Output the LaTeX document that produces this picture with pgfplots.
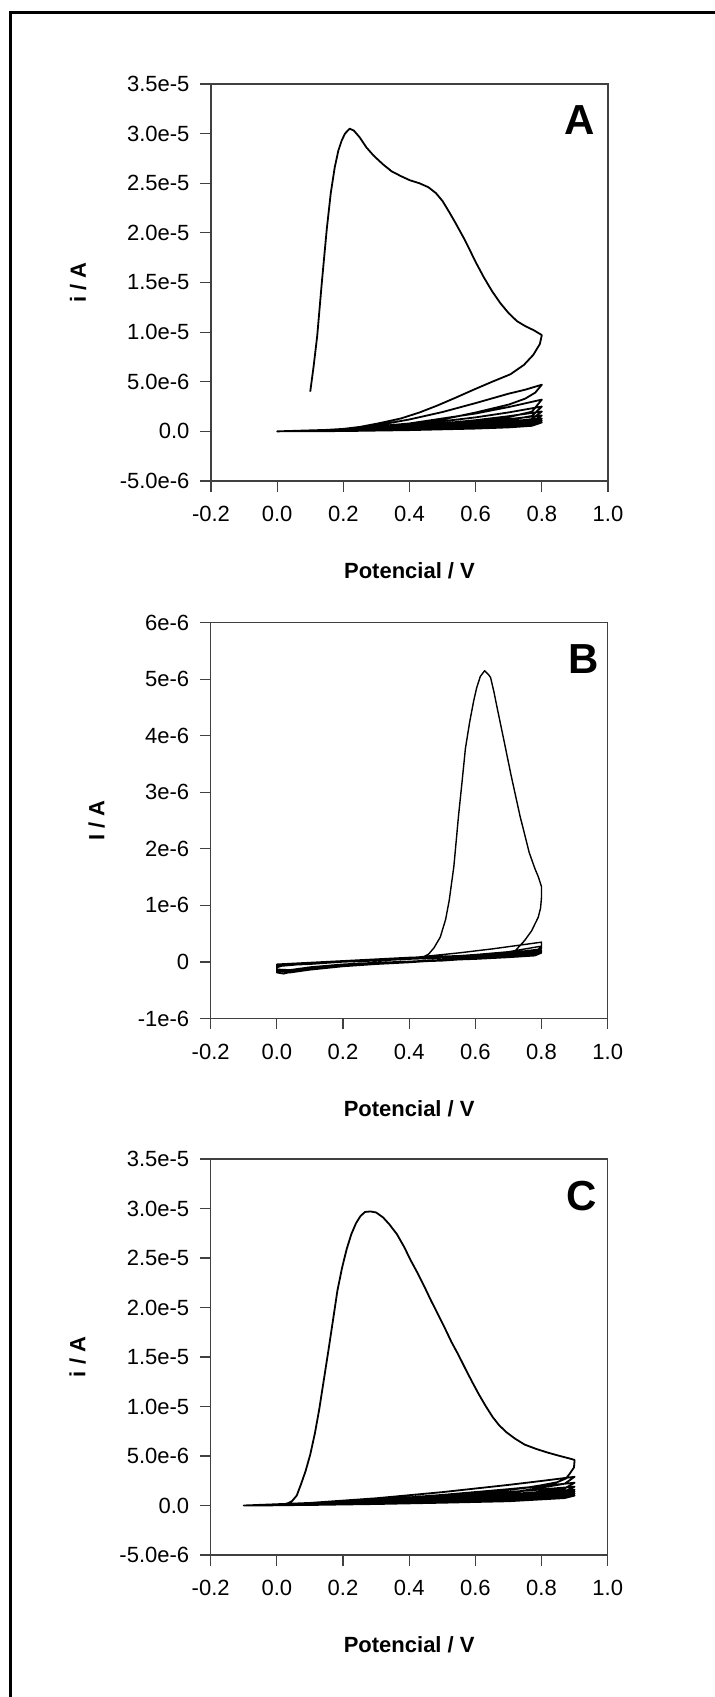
\documentclass[border=0pt]{standalone}
\usepackage{pgfplots}
\pgfplotsset{compat=1.18}
\usepackage{fontspec}
\setmainfont{Liberation Sans}
\newcommand{\tickfont}{\fontsize{22bp}{26bp}\selectfont}
\newcommand{\labfont}{\fontsize{22bp}{26bp}\selectfont\bfseries}
\newcommand{\panfont}{\fontsize{42bp}{42bp}\selectfont\bfseries}
\pgfplotsset{
  cvaxis/.style={
    scale only axis, width=397bp,
    xmin=-0.2, xmax=1.0,
    axis line style={line width=1.2bp, black!75},
    tick align=outside, tick pos=left, major tick length=11bp,
    tick style={line width=1.2bp, black!75},
    xtick={-0.2,0,0.2,0.4,0.6,0.8,1.0},
    xticklabels={-0.2,0.0,0.2,0.4,0.6,0.8,1.0},
    scaled ticks=false,
    tick label style={font=\tickfont},
    yticklabel style={xshift=-7bp},
    xticklabel style={yshift=-11bp},
    xlabel={Potencial / V},
    xlabel style={font=\labfont, at={([yshift=-90bp]axis description cs:0.5,0)}, anchor=center},
    ylabel style={font=\labfont, at={([xshift=-133bp]axis description cs:0,0.5)}, anchor=center},
    clip=false,
  },
  cvline/.style={black, line width=1.8bp, line join=round, mark=none},
}
\begin{document}
\begin{tikzpicture}
% outer frame (left and top edges)
\draw[line width=3bp, black] (10bp,0bp) -- (10bp,1684bp) -- (720bp,1684bp);

% ---------------- Panel A ----------------
\begin{axis}[cvaxis, at={(211bp,1216bp)}, anchor=south west, height=397bp,
  ymin=-5e-6, ymax=3.5e-5,
  ytick={-5e-6,0,5e-6,1e-5,1.5e-5,2e-5,2.5e-5,3e-5,3.5e-5},
  yticklabels={-5.0e-6,0.0,5.0e-6,1.0e-5,1.5e-5,2.0e-5,2.5e-5,3.0e-5,3.5e-5},
  ylabel={i / A}]
\addplot[cvline] coordinates {
(0.100,4.0e-6) (0.110,6.5e-6) (0.121,9.6e-6) (0.135,15.0e-6) (0.150,20.4e-6) (0.162,24.0e-6) (0.174,26.6e-6) (0.185,28.3e-6) (0.195,29.3e-6) (0.205,30.0e-6) (0.219,30.5e-6) (0.232,30.3e-6) (0.250,29.6e-6) (0.270,28.6e-6) (0.291,27.8e-6) (0.320,26.9e-6) (0.346,26.2e-6) (0.375,25.7e-6) (0.401,25.3e-6) (0.430,25.0e-6) (0.457,24.6e-6) (0.480,24.0e-6) (0.500,23.2e-6) (0.520,22.1e-6) (0.539,21.0e-6) (0.567,19.3e-6) (0.601,17.0e-6) (0.625,15.5e-6) (0.650,14.1e-6) (0.675,12.9e-6) (0.700,11.9e-6) (0.725,11.1e-6) (0.750,10.6e-6) (0.775,10.2e-6) (0.800,9.7e-6)
(0.794,8.8e-6) (0.774,7.7e-6) (0.746,6.7e-6) (0.705,5.75e-6) (0.650,5.0e-6) (0.594,4.2e-6) (0.540,3.4e-6) (0.484,2.6e-6) (0.430,1.9e-6) (0.374,1.3e-6) (0.305,0.8e-6) (0.250,0.45e-6) (0.200,0.25e-6) (0.126,0.1e-6) (0.060,0.03e-6) (0.000,0.0)
(0.1,0.05e-6) (0.2,0.2e-6) (0.3,0.6e-6) (0.4,1.2e-6) (0.5,1.95e-6) (0.6,2.85e-6) (0.7,3.8e-6) (0.75,4.2e-6) (0.8,4.7e-6)
(0.78,3.9e-6) (0.75,3.3e-6) (0.7,2.7e-6) (0.6,1.9e-6) (0.5,1.2e-6) (0.4,0.7e-6) (0.3,0.35e-6) (0.2,0.15e-6) (0.1,0.05e-6) (0,0)
(0.2,0.2e-6) (0.4,0.8e-6) (0.6,1.8e-6) (0.7,2.45e-6) (0.8,3.2e-6) (0.77,1.98e-6) (0.7,1.44e-6) (0.6,0.99e-6) (0.4,0.45e-6) (0.2,0.11e-6) (0,0)
(0.2,0.156e-6) (0.4,0.625e-6) (0.6,1.41e-6) (0.7,1.91e-6) (0.8,2.5e-6) (0.77,1.55e-6) (0.7,1.13e-6) (0.6,0.78e-6) (0.4,0.35e-6) (0.2,0.09e-6) (0,0)
(0.2,0.125e-6) (0.4,0.5e-6) (0.6,1.125e-6) (0.7,1.53e-6) (0.8,2.0e-6) (0.77,1.24e-6) (0.7,0.9e-6) (0.6,0.62e-6) (0.4,0.28e-6) (0.2,0.07e-6) (0,0)
(0.2,0.1e-6) (0.4,0.4e-6) (0.6,0.9e-6) (0.7,1.23e-6) (0.8,1.6e-6) (0.77,0.99e-6) (0.7,0.72e-6) (0.6,0.5e-6) (0.4,0.22e-6) (0.2,0.056e-6) (0,0)
(0.2,0.081e-6) (0.4,0.325e-6) (0.6,0.73e-6) (0.7,1.0e-6) (0.8,1.3e-6) (0.77,0.81e-6) (0.7,0.585e-6) (0.6,0.40e-6) (0.4,0.18e-6) (0.2,0.046e-6) (0,0)
(0.2,0.069e-6) (0.4,0.275e-6) (0.6,0.62e-6) (0.7,0.84e-6) (0.8,1.1e-6) (0.77,0.68e-6) (0.7,0.5e-6) (0.6,0.34e-6) (0.4,0.154e-6) (0.2,0.039e-6) (0,0)
(0.2,0.056e-6) (0.4,0.225e-6) (0.6,0.51e-6) (0.7,0.69e-6) (0.8,0.9e-6) (0.77,0.56e-6) (0.7,0.4e-6) (0.6,0.28e-6) (0.4,0.126e-6) (0.2,0.03e-6) (0,0)
};
\node[font=\panfont] at ([xshift=-28bp,yshift=-36bp]rel axis cs:1,1) {A};
\end{axis}

% ---------------- Panel B ----------------
\begin{axis}[cvaxis, at={(210.7bp,678.5bp)}, anchor=south west, height=395.8bp,
  ymin=-1e-6, ymax=6e-6,
  ytick={-1e-6,0,1e-6,2e-6,3e-6,4e-6,5e-6,6e-6},
  yticklabels={-1e-6,0,1e-6,2e-6,3e-6,4e-6,5e-6,6e-6},
  ylabel={I / A},
  ylabel style={at={([xshift=-114bp]axis description cs:0,0.5)}}]
\addplot[cvline, line width=1.4bp] coordinates {
(0.0,-0.06e-6) (0.05,-0.05e-6) (0.1,-0.03e-6) (0.2,0.0) (0.3,0.03e-6) (0.4,0.06e-6) (0.44,0.08e-6) (0.459,0.14e-6) (0.475,0.25e-6) (0.494,0.44e-6) (0.510,0.75e-6) (0.521,1.09e-6) (0.535,1.69e-6) (0.549,2.58e-6) (0.560,3.2e-6) (0.570,3.78e-6) (0.583,4.25e-6) (0.595,4.62e-6) (0.604,4.85e-6) (0.615,5.05e-6) (0.628,5.15e-6) (0.640,5.08e-6) (0.646,5.03e-6) (0.656,4.78e-6) (0.666,4.49e-6) (0.687,3.90e-6) (0.708,3.30e-6) (0.735,2.58e-6) (0.763,1.93e-6) (0.780,1.65e-6) (0.790,1.51e-6) (0.800,1.33e-6)
(0.800,1.15e-6) (0.797,0.95e-6) (0.790,0.79e-6) (0.770,0.55e-6) (0.749,0.38e-6) (0.721,0.20e-6) (0.70,0.13e-6) (0.65,0.10e-6) (0.6,0.07e-6) (0.5,0.04e-6) (0.4,0.01e-6) (0.3,-0.02e-6) (0.2,-0.06e-6) (0.1,-0.12e-6) (0.05,-0.17e-6) (0.02,-0.21e-6) (0.0,-0.19e-6)
(0.0,-0.10e-6) (0.02,-0.06e-6) (0.1,-0.04e-6) (0.2,0.0) (0.3,0.03e-6) (0.4,0.07e-6) (0.45,0.10e-6) (0.55,0.16e-6) (0.65,0.23e-6) (0.75,0.31e-6) (0.8,0.35e-6)
(0.8,0.25e-6) (0.78,0.18e-6) (0.7,0.11e-6) (0.6,0.07e-6) (0.5,0.04e-6) (0.4,0.01e-6) (0.3,-0.02e-6) (0.2,-0.06e-6) (0.1,-0.12e-6) (0.04,-0.18e-6) (0.0,-0.17e-6)
(0.0,-0.08e-6) (0.1,-0.03e-6) (0.2,0.0) (0.3,0.03e-6) (0.4,0.06e-6) (0.5,0.09e-6) (0.6,0.13e-6) (0.7,0.18e-6) (0.8,0.28e-6)
(0.78,0.16e-6) (0.7,0.10e-6) (0.6,0.07e-6) (0.5,0.04e-6) (0.4,0.01e-6) (0.3,-0.02e-6) (0.2,-0.06e-6) (0.1,-0.11e-6) (0.04,-0.17e-6) (0.0,-0.16e-6)
(0.0,-0.07e-6) (0.1,-0.03e-6) (0.2,0.0) (0.3,0.03e-6) (0.4,0.06e-6) (0.5,0.08e-6) (0.6,0.11e-6) (0.7,0.16e-6) (0.8,0.23e-6)
(0.78,0.14e-6) (0.7,0.09e-6) (0.6,0.06e-6) (0.5,0.04e-6) (0.4,0.01e-6) (0.3,-0.02e-6) (0.2,-0.05e-6) (0.1,-0.11e-6) (0.04,-0.16e-6) (0.0,-0.15e-6)
(0.0,-0.07e-6) (0.1,-0.03e-6) (0.2,0.0) (0.3,0.03e-6) (0.4,0.05e-6) (0.5,0.07e-6) (0.6,0.10e-6) (0.7,0.14e-6) (0.8,0.19e-6)
(0.78,0.12e-6) (0.7,0.08e-6) (0.6,0.05e-6) (0.5,0.03e-6) (0.4,0.01e-6) (0.3,-0.02e-6) (0.2,-0.05e-6) (0.1,-0.10e-6) (0.04,-0.15e-6) (0.0,-0.14e-6)
(0.0,-0.06e-6) (0.1,-0.03e-6) (0.2,0.0) (0.3,0.02e-6) (0.4,0.05e-6) (0.5,0.07e-6) (0.6,0.09e-6) (0.7,0.12e-6) (0.8,0.16e-6)
(0.78,0.11e-6) (0.7,0.08e-6) (0.6,0.05e-6) (0.5,0.03e-6) (0.4,0.01e-6) (0.3,-0.01e-6) (0.2,-0.04e-6) (0.1,-0.09e-6) (0.04,-0.14e-6) (0.0,-0.13e-6)
(0.0,-0.05e-6) (0.1,-0.02e-6) (0.2,0.01e-6) (0.3,0.04e-6) (0.4,0.07e-6) (0.5,0.09e-6) (0.6,0.11e-6) (0.7,0.14e-6) (0.8,0.18e-6)
(0.78,0.12e-6) (0.7,0.09e-6) (0.6,0.06e-6) (0.5,0.02e-6) (0.4,0.0) (0.3,-0.03e-6) (0.2,-0.07e-6) (0.1,-0.13e-6) (0.04,-0.17e-6) (0.0,-0.15e-6)
(0.0,-0.04e-6) (0.1,-0.01e-6) (0.2,0.02e-6) (0.3,0.05e-6) (0.4,0.08e-6) (0.5,0.10e-6) (0.6,0.12e-6) (0.7,0.15e-6) (0.8,0.20e-6)
(0.78,0.13e-6) (0.7,0.10e-6) (0.6,0.07e-6) (0.5,0.03e-6) (0.4,-0.01e-6) (0.3,-0.04e-6) (0.2,-0.08e-6) (0.1,-0.14e-6) (0.04,-0.19e-6) (0.0,-0.16e-6)
};
\node[font=\panfont] at ([xshift=-24bp,yshift=-36bp]rel axis cs:1,1) {B};
\end{axis}

% ---------------- Panel C ----------------
\begin{axis}[cvaxis, at={(210.7bp,142bp)}, anchor=south west, height=396bp,
  ymin=-5e-6, ymax=3.5e-5,
  ytick={-5e-6,0,5e-6,1e-5,1.5e-5,2e-5,2.5e-5,3e-5,3.5e-5},
  yticklabels={-5.0e-6,0.0,5.0e-6,1.0e-5,1.5e-5,2.0e-5,2.5e-5,3.0e-5,3.5e-5},
  ylabel={i / A}]
\addplot[cvline] coordinates {
(-0.1,0.0) (-0.05,0.0) (0.0,0.02e-6) (0.02,0.1e-6) (0.035,0.25e-6) (0.046,0.45e-6) (0.06,1.0e-6) (0.073,2.15e-6) (0.087,3.5e-6) (0.101,5.16e-6) (0.115,7.3e-6) (0.128,9.7e-6) (0.142,12.7e-6) (0.156,15.7e-6) (0.170,18.8e-6) (0.183,21.7e-6) (0.197,24.0e-6) (0.211,25.9e-6) (0.225,27.4e-6) (0.239,28.5e-6) (0.252,29.2e-6) (0.266,29.65e-6) (0.283,29.7e-6) (0.300,29.6e-6) (0.321,29.1e-6) (0.340,28.4e-6) (0.363,27.4e-6) (0.385,26.1e-6) (0.404,24.8e-6) (0.425,23.5e-6) (0.446,22.1e-6) (0.466,20.7e-6) (0.487,19.3e-6) (0.508,17.9e-6) (0.528,16.5e-6) (0.549,15.2e-6) (0.570,13.8e-6) (0.590,12.5e-6) (0.611,11.2e-6) (0.632,10.0e-6) (0.652,8.95e-6) (0.672,8.1e-6) (0.694,7.4e-6) (0.720,6.75e-6) (0.749,6.15e-6) (0.785,5.7e-6) (0.818,5.35e-6) (0.850,5.05e-6) (0.873,4.85e-6) (0.890,4.7e-6) (0.900,4.6e-6)
(0.898,3.84e-6) (0.885,3.2e-6) (0.873,2.71e-6) (0.846,2.34e-6) (0.8,2.05e-6) (0.749,1.77e-6) (0.65,1.38e-6) (0.542,1.02e-6) (0.44,0.72e-6) (0.335,0.45e-6) (0.23,0.27e-6) (0.128,0.15e-6) (0.05,0.06e-6) (0.0,0.02e-6) (-0.1,0.0)
(0.1,0.26e-6) (0.3,0.73e-6) (0.5,1.35e-6) (0.7,2.08e-6) (0.8,2.48e-6) (0.9,2.9e-6) (0.87,2.2e-6) (0.7,1.25e-6) (0.5,0.81e-6) (0.3,0.44e-6) (0.1,0.15e-6) (-0.1,0.0)
(0.1,0.2e-6) (0.3,0.58e-6) (0.5,1.07e-6) (0.7,1.65e-6) (0.8,1.96e-6) (0.9,2.3e-6) (0.87,1.72e-6) (0.7,0.99e-6) (0.5,0.64e-6) (0.3,0.35e-6) (0.1,0.12e-6) (-0.1,0.0)
(0.1,0.17e-6) (0.3,0.48e-6) (0.5,0.88e-6) (0.7,1.36e-6) (0.8,1.62e-6) (0.9,1.9e-6) (0.87,1.42e-6) (0.7,0.82e-6) (0.5,0.53e-6) (0.3,0.29e-6) (0.1,0.1e-6) (-0.1,0.0)
(0.1,0.14e-6) (0.3,0.4e-6) (0.5,0.74e-6) (0.7,1.15e-6) (0.8,1.37e-6) (0.9,1.6e-6) (0.87,1.2e-6) (0.7,0.69e-6) (0.5,0.45e-6) (0.3,0.24e-6) (0.1,0.085e-6) (-0.1,0.0)
(0.1,0.125e-6) (0.3,0.35e-6) (0.5,0.65e-6) (0.7,1.0e-6) (0.8,1.2e-6) (0.9,1.4e-6) (0.87,1.05e-6) (0.7,0.6e-6) (0.5,0.39e-6) (0.3,0.21e-6) (0.1,0.075e-6) (-0.1,0.0)
(0.1,0.107e-6) (0.3,0.3e-6) (0.5,0.56e-6) (0.7,0.86e-6) (0.8,1.02e-6) (0.9,1.2e-6) (0.87,0.9e-6) (0.7,0.52e-6) (0.5,0.33e-6) (0.3,0.18e-6) (0.1,0.064e-6) (-0.1,0.0)
(0.1,0.089e-6) (0.3,0.25e-6) (0.5,0.465e-6) (0.7,0.716e-6) (0.8,0.854e-6) (0.9,1.0e-6) (0.87,0.75e-6) (0.7,0.43e-6) (0.5,0.28e-6) (0.3,0.15e-6) (0.1,0.053e-6) (-0.1,0.0)
};
\node[font=\panfont] at ([xshift=-26bp,yshift=-37bp]rel axis cs:1,1) {C};
\end{axis}

\pgfresetboundingbox
\useasboundingbox (0bp,0bp) rectangle (715bp,1697bp);
\end{tikzpicture}
\end{document}
